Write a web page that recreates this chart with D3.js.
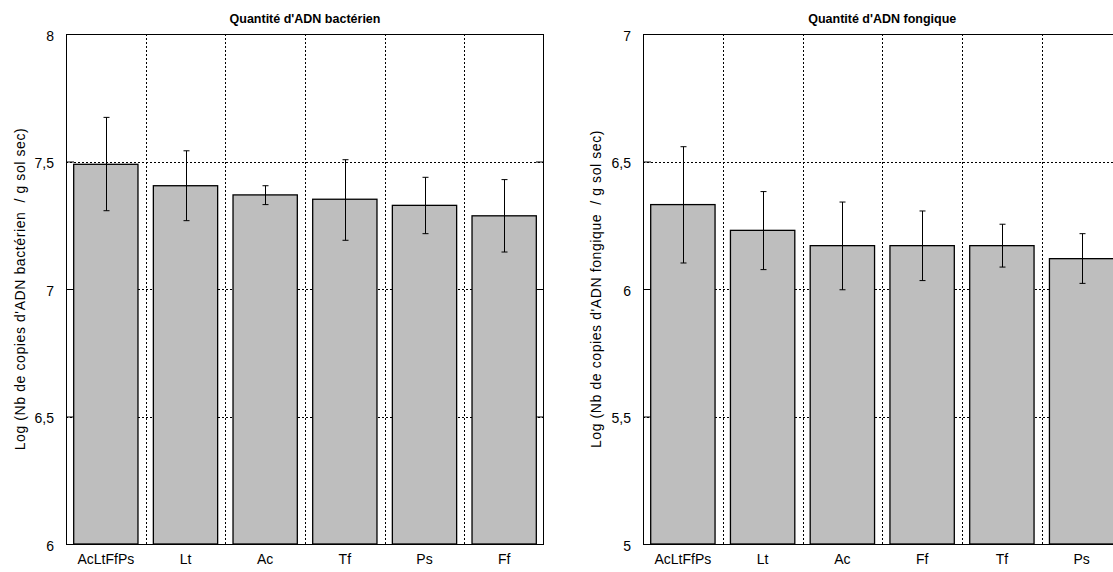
<!DOCTYPE html>
<html>
<head>
<meta charset="utf-8">
<script src="https://cdn.jsdelivr.net/npm/d3@7"></script>
<style>
  html, body { margin: 0; padding: 0; background: #fff; }
  svg { display: block; font-family: "Liberation Sans", Arial, Helvetica, sans-serif; }
</style>
</head>
<body>
<svg id="chart" width="1113" height="572"></svg>
<script>
// ---- Data ----
const bactCategories = ["AcLtFfPs", "Lt", "Ac", "Tf", "Ps", "Ff"];
const bactMeans = [7.489, 7.405, 7.369, 7.352, 7.328, 7.287];
const bactLow   = [7.307, 7.268, 7.331, 7.191, 7.217, 7.145];
const bactHigh  = [7.673, 7.542, 7.405, 7.507, 7.438, 7.429];
const bactTicks = [6, 6.5, 7, 7.5, 8];
const bactTitle = "Quantité d'ADN bactérien";
const bactYLabel = "Log (Nb de copies d'ADN bactérien  / g sol sec)";

const fungCategories = ["AcLtFfPs", "Lt", "Ac", "Ff", "Tf", "Ps"];
const fungMeans = [6.331, 6.230, 6.170, 6.170, 6.170, 6.119];
const fungLow   = [6.102, 6.076, 5.997, 6.033, 6.086, 6.022];
const fungHigh  = [6.558, 6.382, 6.341, 6.306, 6.254, 6.217];
const fungTicks = [5, 5.5, 6, 6.5, 7];
const fungTitle = "Quantité d'ADN fongique";
const fungYLabel = "Log (Nb de copies d'ADN fongique  / g sol sec)";

const svg = d3.select("#chart");
const fmt = d => String(d).replace(".", ",");

function panel(opts) {
  const { left, right, top, bottom, cats, means, low, high, ticks, title, ylabel, labelX } = opts;
  const g = svg.append("g");
  const x = d3.scaleBand().domain(cats).range([left, right]).padding(0);
  const y = d3.scaleLinear().domain([ticks[0], ticks[ticks.length - 1]]).range([bottom, top]);
  const bw = x.bandwidth() * 0.807;

  // grid
  const grid = g.append("g").attr("stroke", "#000").attr("stroke-width", 1)
    .attr("stroke-dasharray", "2,2").attr("fill", "none");
  grid.selectAll("line.h").data(ticks).join("line").attr("class", "h")
    .attr("x1", left).attr("x2", right)
    .attr("y1", d => Math.round(y(d)) + 0.5).attr("y2", d => Math.round(y(d)) + 0.5);
  grid.selectAll("line.v").data(cats.slice(1)).join("line").attr("class", "v")
    .attr("x1", d => Math.round(x(d)) + 0.5).attr("x2", d => Math.round(x(d)) + 0.5)
    .attr("y1", top).attr("y2", bottom);

  // bars
  const data = cats.map((c, i) => ({ c, m: means[i], lo: low[i], hi: high[i] }));
  g.append("g").selectAll("rect").data(data).join("rect")
    .attr("x", d => x(d.c) + (x.bandwidth() - bw) / 2)
    .attr("width", bw)
    .attr("y", d => y(d.m))
    .attr("height", d => y(ticks[0]) - y(d.m))
    .attr("fill", "#bebebe").attr("stroke", "#000").attr("stroke-width", 1.3);

  // error bars
  const eb = g.append("g").attr("stroke", "#000").attr("stroke-width", 1);
  data.forEach(d => {
    const cx = Math.round(x(d.c) + x.bandwidth() / 2) + 0.5;
    eb.append("line").attr("x1", cx).attr("x2", cx).attr("y1", y(d.hi)).attr("y2", y(d.lo));
    eb.append("line").attr("x1", cx - 3).attr("x2", cx + 3).attr("y1", y(d.hi)).attr("y2", y(d.hi));
    eb.append("line").attr("x1", cx - 3).attr("x2", cx + 3).attr("y1", y(d.lo)).attr("y2", y(d.lo));
  });

  // frame
  g.append("rect").attr("x", left + 0.5).attr("y", top + 0.5)
    .attr("width", right - left - 1).attr("height", bottom - top)
    .attr("fill", "none").attr("stroke", "#000").attr("stroke-width", 1);

  // y axis (inward ticks)
  const ya = g.append("g").attr("transform", `translate(${left},0)`)
    .call(d3.axisLeft(y).tickValues(ticks).tickFormat(fmt).tickSizeInner(-8).tickSizeOuter(0).tickPadding(12));
  ya.select(".domain").remove();
  ya.selectAll("text").attr("font-size", 14).attr("fill", "#000").attr("dy", "0.45em")
    .attr("font-family", "Liberation Sans, Arial, sans-serif");
  const yr = g.append("g").attr("transform", `translate(${right},0)`)
    .call(d3.axisRight(y).tickValues(ticks).tickFormat("").tickSizeInner(-8).tickSizeOuter(0));
  yr.select(".domain").remove();

  // x axis labels
  const xa = g.append("g").attr("transform", `translate(0,${bottom})`)
    .call(d3.axisBottom(x).tickSize(0).tickPadding(10));
  xa.select(".domain").remove();
  xa.selectAll("text").attr("font-size", 14).attr("fill", "#000")
    .attr("font-family", "Liberation Sans, Arial, sans-serif");

  // title
  g.append("text").attr("x", (left + right) / 2).attr("y", 23)
    .attr("text-anchor", "middle").attr("font-size", 12.5).attr("font-weight", "bold")
    .text(title);

  // y label
  g.append("text")
    .attr("transform", `translate(${labelX},${(top + bottom) / 2}) rotate(-90)`)
    .attr("text-anchor", "middle").attr("dominant-baseline", "middle")
    .attr("font-size", 14).attr("letter-spacing", 0.6)
    .style("white-space", "pre")
    .text(ylabel);
}

panel({ left: 66, right: 544, top: 34, bottom: 544, cats: bactCategories, means: bactMeans,
  low: bactLow, high: bactHigh, ticks: bactTicks, title: bactTitle, ylabel: bactYLabel, labelX: 21 });
panel({ left: 643, right: 1121.5, top: 34, bottom: 544, cats: fungCategories, means: fungMeans,
  low: fungLow, high: fungHigh, ticks: fungTicks, title: fungTitle, ylabel: fungYLabel, labelX: 597 });
</script>
</body>
</html>
